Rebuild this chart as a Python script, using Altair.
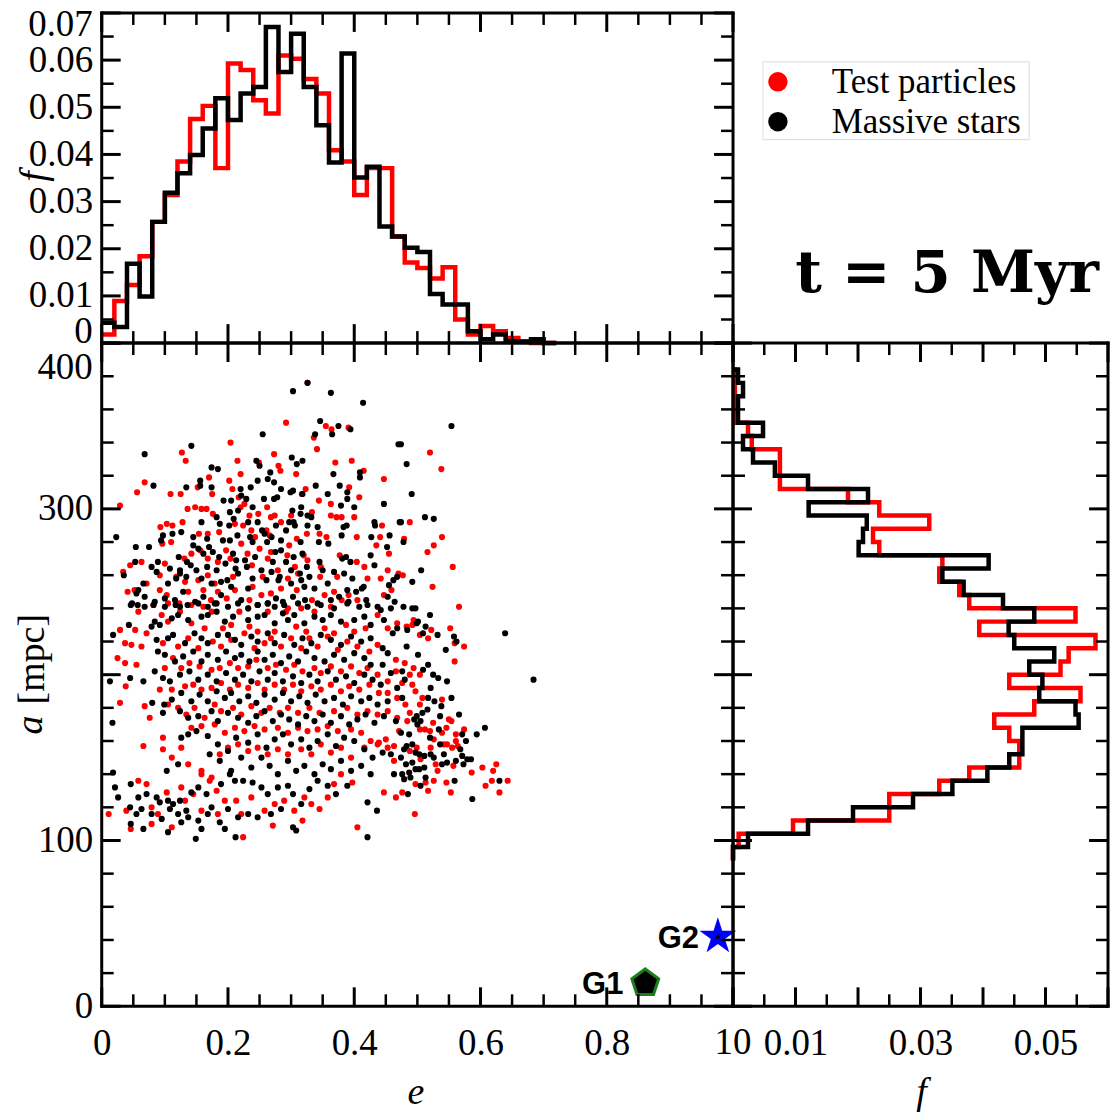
import altair as alt
import pandas as pd

# ------------------------------------------------------------------
# Eccentricity distribution f(e): bins of width 0.02
# ------------------------------------------------------------------
e_edges = [0.00, 0.02, 0.04, 0.06, 0.08, 0.10, 0.12, 0.14, 0.16, 0.18,
           0.20, 0.22, 0.24, 0.26, 0.28, 0.30, 0.32, 0.34, 0.36, 0.38,
           0.40, 0.42, 0.44, 0.46, 0.48, 0.50, 0.52, 0.54, 0.56, 0.58,
           0.60, 0.62, 0.64, 0.66, 0.68, 0.70, 0.72]
fe_test = [0.0018, 0.0089, 0.0123, 0.0184, 0.0257, 0.0314, 0.0385, 0.0475, 0.0503, 0.0371,
           0.0593, 0.0579, 0.0515, 0.0487, 0.0610, 0.0603, 0.0560, 0.0529, 0.0409, 0.0385,
           0.0314, 0.0371, 0.0371, 0.0226, 0.0171, 0.0159, 0.0137, 0.0161, 0.0050, 0.0018,
           0.0036, 0.0025, 0.0011, 0.0004, 0.0000, 0.0000]
fe_massive = [0.0043, 0.0034, 0.0168, 0.0099, 0.0257, 0.0319, 0.0360, 0.0399, 0.0455, 0.0519,
              0.0473, 0.0529, 0.0543, 0.0670, 0.0575, 0.0656, 0.0543, 0.0462, 0.0383, 0.0614,
              0.0351, 0.0374, 0.0247, 0.0226, 0.0202, 0.0193, 0.0104, 0.0082, 0.0082, 0.0025,
              0.0008, 0.0018, 0.0004, 0.0003, 0.0008, 0.0000]

# ------------------------------------------------------------------
# Semi-major axis distribution f(a): bins of width 8 mpc
# ------------------------------------------------------------------
a_edges = [88, 96, 104, 112, 120, 128, 136, 144, 152, 160,
           168, 176, 184, 192, 200, 208, 216, 224, 232, 240,
           248, 256, 264, 272, 280, 288, 296, 304, 312, 320,
           328, 336, 344, 352, 360, 368, 376, 384]
fa_test = [0.0000, 0.0009, 0.0096, 0.0250, 0.0250, 0.0330, 0.0378, 0.0458, 0.0458, 0.0442,
           0.0418, 0.0482, 0.0556, 0.0442, 0.0524, 0.0537, 0.0580, 0.0394, 0.0548, 0.0378,
           0.0362, 0.0330, 0.0335, 0.0234, 0.0224, 0.0314, 0.0234, 0.0184, 0.0075, 0.0075,
           0.0075, 0.0030, 0.0024, 0.0003, 0.0003, 0.0003, 0.0003]
fa_massive = [0.0000, 0.0024, 0.0120, 0.0192, 0.0288, 0.0351, 0.0407, 0.0442, 0.0463, 0.0463,
              0.0553, 0.0548, 0.0490, 0.0495, 0.0474, 0.0514, 0.0450, 0.0441, 0.0482, 0.0432,
              0.0369, 0.0335, 0.0409, 0.0201, 0.0208, 0.0214, 0.0121, 0.0216, 0.0120, 0.0067,
              0.0032, 0.0016, 0.0048, 0.0008, 0.0008, 0.0016, 0.0008]

# ------------------------------------------------------------------
# (e, a [mpc]) of individual orbits
# ------------------------------------------------------------------
test_particles = [
    (0.326,376),(0.292,352),(0.355,350),(0.364,348),(0.391,349),(0.336,343),(0.341,336),(0.204,340),
    (0.127,334),(0.133,329),(0.273,333),(0.215,329),(0.249,328),(0.280,326),(0.283,323),(0.220,321),
    (0.308,321),(0.370,328),(0.396,329),(0.415,323),(0.447,318),(0.068,316),(0.056,310),(0.109,309),
    (0.125,309),(0.170,319),(0.202,317),(0.152,313),(0.175,309),(0.207,312),(0.217,307),(0.226,303),
    (0.317,309),(0.323,312),(0.392,313),(0.408,307),(0.344,305),(0.363,303),(0.136,300),(0.148,301),
    (0.158,300),(0.166,300),(0.176,297),(0.220,301),(0.234,296),(0.262,301),(0.248,297),(0.268,295),
    (0.284,292),(0.274,296),(0.300,296),(0.333,298),(0.363,296),(0.372,295),(0.380,295),(0.400,295),
    (0.029,302),(0.093,289),(0.103,291),(0.112,290),(0.128,292),(0.154,285),(0.168,285),(0.186,286),
    (0.211,291),(0.224,290),(0.237,287),(0.243,283),(0.261,287),(0.266,284),(0.297,278),(0.309,282),
    (0.325,285),(0.345,285),(0.356,283),(0.404,283),(0.441,283),(0.444,290),(0.435,278),(0.096,279),
    (0.110,280),(0.142,273),(0.156,275),(0.197,275),(0.221,279),(0.250,276),(0.268,274),(0.294,272),
    (0.320,272),(0.326,269),(0.377,272),(0.404,268),(0.455,273),(0.045,266),(0.063,268),(0.100,267),
    (0.131,270),(0.168,270),(0.184,268),(0.204,270),(0.231,273),(0.238,266),(0.263,270),(0.306,265),
    (0.347,265),(0.416,265),(0.453,263),(0.034,262),(0.071,255),(0.092,260),(0.118,259),(0.132,256),
    (0.153,257),(0.168,260),(0.179,255),(0.208,259),(0.239,253),(0.255,259),(0.279,263),(0.295,258),
    (0.311,261),(0.346,259),(0.373,259),(0.421,258),(0.442,258),(0.470,261),(0.041,250),(0.052,251),
    (0.092,251),(0.103,248),(0.137,250),(0.161,251),(0.173,245),(0.184,250),(0.198,246),(0.211,251),
    (0.234,245),(0.253,248),(0.268,249),(0.284,252),(0.309,251),(0.333,245),(0.353,248),(0.368,250),
    (0.380,245),(0.391,248),(0.405,245),(0.447,248),(0.459,251),(0.082,242),(0.105,243),(0.123,243),
    (0.142,242),(0.161,241),(0.232,240),(0.247,242),(0.295,240),(0.316,240),(0.363,241),
    (0.058,238),(0.053,227),(0.071,225),(0.029,227),(0.025,210),(0.037,219),(0.047,218),(0.063,217),
    (0.038,193),(0.029,183),(0.066,157),(0.097,162),(0.068,181),(0.076,174),(0.037,207),(0.055,206),
    (0.095,236),(0.105,232),(0.124,238),(0.142,231),(0.163,228),(0.174,238),(0.192,228),(0.205,230),
    (0.218,238),(0.234,229),(0.247,226),(0.263,238),(0.274,226),(0.292,238),(0.308,229),(0.324,226),
    (0.337,238),(0.353,228),(0.368,225),(0.387,230),(0.400,226),(0.418,228),(0.437,236),(0.453,228),
    (0.468,231),(0.097,219),(0.121,217),(0.137,222),(0.153,216),(0.176,220),(0.189,217),(0.205,221),
    (0.226,225),(0.242,216),(0.258,219),(0.268,222),(0.284,217),(0.300,222),(0.316,216),(0.329,222),
    (0.342,217),(0.358,223),(0.374,215),(0.389,220),(0.405,217),(0.424,214),(0.437,218),(0.466,209),
    (0.100,204),(0.113,210),(0.126,204),(0.139,207),(0.155,205),(0.174,203),(0.187,204),(0.203,207),
    (0.216,204),(0.232,205),(0.245,209),(0.263,204),(0.276,206),(0.292,203),(0.305,206),(0.318,202),
    (0.337,204),(0.347,201),(0.363,205),(0.379,202),(0.395,205),(0.408,201),(0.421,204),(0.437,200),
    (0.453,196),(0.466,202),(0.092,191),(0.111,191),(0.132,193),(0.145,194),(0.158,191),(0.174,192),
    (0.189,195),(0.203,191),(0.216,194),(0.232,192),(0.247,195),(0.258,191),(0.274,194),(0.289,191),
    (0.303,194),(0.316,190),(0.332,193),(0.347,191),(0.363,194),(0.379,190),(0.392,193),(0.408,191),
    (0.424,194),(0.439,189),(0.453,189),(0.468,186),(0.105,182),(0.121,180),(0.134,176),(0.147,180),
    (0.163,174),(0.179,182),(0.189,178),(0.208,180),(0.221,176),(0.237,181),(0.253,177),(0.266,180),
    (0.282,177),(0.295,180),(0.311,177),(0.329,180),(0.345,177),(0.368,178),(0.389,180),(0.405,176),
    (0.421,178),(0.437,176),(0.453,178),(0.468,174),(0.142,168),(0.158,169),(0.179,170),(0.195,165),
    (0.211,168),(0.226,166),(0.242,169),(0.258,167),(0.279,168),(0.295,165),(0.311,168),(0.326,166),
    (0.342,167),(0.358,169),(0.374,166),(0.395,167),(0.411,165),(0.426,160),(0.439,159),(0.450,161),
    (0.463,157),(0.471,166),(0.097,155),(0.111,150),(0.126,156),(0.137,146),(0.158,142),(0.174,138),
    (0.187,152),(0.200,156),(0.216,158),(0.232,154),(0.247,156),(0.263,152),(0.279,155),(0.295,152),
    (0.316,155),(0.332,152),(0.347,158),(0.363,153),(0.379,156),(0.395,150),(0.416,156),(0.437,158),
    (0.453,156),(0.463,148),(0.039,118),(0.011,116),(0.046,107),(0.058,136),(0.071,134),(0.079,120),
    (0.089,116),(0.103,129),(0.111,108),(0.126,132),(0.132,124),(0.145,128),(0.158,140),(0.171,136),
    (0.182,130),(0.195,124),(0.213,124),(0.221,116),(0.237,126),(0.258,118),(0.274,122),(0.289,124),
    (0.305,118),(0.321,126),(0.332,122),(0.345,119),(0.358,126),(0.368,134),(0.379,140),(0.397,135),
    (0.405,108),(0.447,129),(0.466,126),(0.224,102),(0.271,109),(0.318,112),(0.079,110),(0.158,118),
    (0.184,116),
    (0.520,334),(0.538,324),(0.488,292),(0.479,282),(0.539,283),(0.526,278),(0.516,274),(0.556,265),
    (0.477,260),(0.524,253),(0.566,241),
    (0.494,233),(0.492,230),(0.483,229),(0.522,227),(0.504,224),(0.517,222),(0.552,228),(0.559,219),
    (0.574,217),(0.559,208),(0.480,207),(0.494,204),(0.504,200),(0.488,200),(0.492,194),(0.497,190),
    (0.476,195),(0.539,185),(0.508,186),(0.504,182),(0.481,182),(0.488,177),(0.484,172),(0.550,173),
    (0.554,172),(0.525,171),(0.546,168),(0.539,165),(0.574,167),(0.504,167),(0.512,167),(0.520,166),
    (0.526,161),(0.561,160),(0.561,164),(0.542,158),(0.555,156),(0.564,157),(0.547,158),(0.499,156),
    (0.488,154),(0.521,156),(0.505,149),(0.529,146),(0.532,142),(0.557,145),(0.586,141),(0.603,144),
    (0.625,146),(0.620,142),(0.643,136),(0.618,136),(0.608,133),(0.630,129),(0.546,135),(0.526,136),
    (0.513,135),(0.497,134),(0.553,129),(0.517,130),(0.476,129),(0.496,116),
]

massive_stars = [
    (0.303,371),(0.326,376),(0.363,370),(0.414,364),(0.346,353),(0.375,350),(0.394,348),(0.338,345),
    (0.365,345),(0.255,345),(0.470,339),(0.142,338),(0.068,333),(0.301,331),(0.309,327),(0.318,329),
    (0.245,329),(0.250,326),(0.174,325),(0.184,324),(0.267,322),(0.367,321),(0.409,322),(0.409,319),
    (0.156,317),(0.247,317),(0.263,318),(0.273,316),(0.082,314),(0.134,313),(0.174,313),(0.156,314),
    (0.236,313),(0.284,312),(0.339,314),(0.377,314),(0.299,310),(0.220,312),(0.221,308),(0.229,306),
    (0.205,305),(0.193,305),(0.303,311),(0.318,309),(0.358,309),(0.389,306),(0.389,310),(0.447,303),
    (0.472,292),(0.257,306),(0.273,306),(0.278,307),(0.239,301),(0.216,299),(0.203,298),(0.302,299),
    (0.316,301),(0.315,297),(0.326,296),(0.332,295),(0.304,292),(0.306,290),(0.383,289),(0.388,290),
    (0.432,292),(0.433,290),(0.400,301),(0.379,302),(0.182,295),(0.187,291),(0.158,292),(0.202,290),
    (0.209,294),(0.232,292),(0.247,292),(0.254,287),(0.258,285),(0.276,290),(0.292,287),(0.297,292),
    (0.342,289),(0.326,290),(0.023,283),(0.097,284),(0.112,285),(0.126,286),(0.145,283),(0.167,282),
    (0.145,278),(0.153,276),(0.170,277),(0.176,274),(0.192,281),(0.203,281),(0.215,284),(0.235,283),
    (0.239,280),(0.262,280),(0.269,283),(0.284,281),(0.275,274),(0.284,275),(0.315,280),(0.318,273),
    (0.344,280),(0.359,279),(0.380,284),(0.427,283),(0.452,277),(0.456,284),(0.054,277),(0.075,277),
    (0.094,281),(0.122,271),(0.161,273),(0.186,271),(0.208,273),(0.213,269),(0.227,269),(0.243,271),
    (0.271,268),(0.292,268),(0.304,271),(0.325,265),(0.345,268),(0.381,270),(0.387,271),(0.394,268),
    (0.426,272),(0.053,268),(0.079,265),(0.089,268),(0.108,264),(0.124,263),(0.135,268),(0.141,266),
    (0.150,263),(0.167,265),(0.182,263),(0.196,267),(0.212,264),(0.230,265),(0.253,263),(0.269,262),
    (0.282,259),(0.300,263),(0.314,261),(0.329,259),(0.350,263),(0.368,262),(0.384,261),(0.397,258),
    (0.415,253),(0.432,266),(0.455,254),(0.462,257),(0.468,259),(0.035,260),(0.058,251),(0.055,249),
    (0.066,255),(0.087,262),(0.105,255),(0.118,258),(0.124,261),(0.134,259),(0.158,258),(0.174,255),
    (0.189,256),(0.199,257),(0.205,253),(0.216,261),(0.232,252),(0.239,258),(0.261,257),(0.280,257),
    (0.300,255),(0.316,257),(0.321,253),(0.337,252),(0.358,255),(0.376,247),(0.389,251),(0.403,250),
    (0.412,252),(0.048,243),(0.068,247),(0.084,244),(0.100,246),(0.116,245),(0.129,250),(0.148,244),
    (0.161,247),(0.179,243),(0.189,248),(0.221,245),(0.247,242),(0.263,243),(0.276,246),(0.287,244),
    (0.303,247),(0.322,245),(0.342,243),(0.363,245),(0.391,244),(0.419,245),(0.437,241),(0.453,247),
    (0.464,244),
    (0.046,242),(0.057,242),(0.068,241),(0.082,242),(0.100,241),(0.117,242),(0.124,241),(0.136,242),
    (0.153,243),(0.168,241),(0.182,243),(0.200,241),(0.216,243),(0.232,240),(0.247,242),(0.263,243),
    (0.274,241),(0.289,242),(0.311,243),(0.326,241),(0.347,242),(0.368,240),(0.389,243),(0.408,241),
    (0.421,242),(0.442,239),(0.458,240),(0.084,232),(0.079,229),(0.092,230),(0.111,234),(0.121,236),
    (0.137,233),(0.158,235),(0.168,236),(0.182,238),(0.195,232),(0.208,235),(0.232,233),(0.247,235),
    (0.258,236),(0.274,231),(0.287,237),(0.295,233),(0.305,236),(0.321,231),(0.337,235),(0.350,233),
    (0.363,236),(0.379,232),(0.400,233),(0.416,235),(0.426,230),(0.447,233),(0.461,225),(0.468,228),
    (0.018,224),(0.043,230),(0.087,221),(0.105,222),(0.113,224),(0.132,219),(0.147,225),(0.158,222),
    (0.168,219),(0.184,224),(0.200,224),(0.211,221),(0.221,218),(0.237,223),(0.247,220),(0.263,225),
    (0.274,219),(0.289,224),(0.305,218),(0.318,222),(0.332,219),(0.347,224),(0.363,221),(0.379,218),
    (0.395,223),(0.411,220),(0.426,222),(0.445,216),(0.453,213),(0.089,214),(0.100,212),(0.116,208),
    (0.129,211),(0.145,214),(0.158,208),(0.168,212),(0.184,209),(0.197,214),(0.211,210),(0.221,212),
    (0.234,208),(0.247,214),(0.258,209),(0.271,212),(0.284,207),(0.297,211),(0.311,208),(0.324,214),
    (0.337,210),(0.353,208),(0.368,212),(0.384,209),(0.400,213),(0.416,210),(0.426,206),(0.445,206),
    (0.084,202),(0.097,198),(0.108,196),(0.124,200),(0.139,202),(0.153,197),(0.168,200),(0.182,196),
    (0.197,201),(0.211,197),(0.224,200),(0.237,196),(0.250,202),(0.263,197),(0.274,201),(0.287,196),
    (0.303,199),(0.316,195),(0.329,200),(0.342,196),(0.358,202),(0.371,197),(0.387,199),(0.400,195),
    (0.416,200),(0.429,197),(0.442,194),(0.458,201),(0.468,192),(0.013,196),(0.045,198),(0.066,196),
    (0.080,183),(0.099,182),(0.111,185),(0.126,189),(0.142,184),(0.155,188),(0.168,184),(0.182,190),
    (0.195,186),(0.205,189),(0.218,184),(0.232,187),(0.245,183),(0.258,188),(0.274,185),(0.287,189),
    (0.300,184),(0.313,187),(0.326,183),(0.339,188),(0.353,184),(0.368,186),(0.382,182),(0.395,187),
    (0.411,184),(0.424,186),(0.437,182),(0.453,184),(0.017,171),(0.097,177),(0.124,178),(0.137,174),
    (0.153,175),(0.174,178),(0.184,172),(0.200,177),(0.216,174),(0.232,171),(0.245,175),(0.258,178),
    (0.271,172),(0.284,176),(0.297,173),(0.311,170),(0.324,175),(0.337,172),(0.350,176),(0.363,171),
    (0.379,175),(0.392,170),(0.405,173),(0.418,176),(0.432,171),(0.447,175),(0.466,172),(0.126,162),
    (0.137,164),(0.150,166),(0.168,163),(0.184,158),(0.200,154),(0.213,162),(0.232,159),(0.247,164),
    (0.261,156),(0.274,161),(0.287,164),(0.300,158),(0.316,161),(0.329,156),(0.342,160),(0.358,164),
    (0.371,157),(0.384,162),(0.400,160),(0.416,155),(0.429,150),(0.445,153),(0.458,152),(0.103,142),
    (0.121,146),(0.171,152),(0.187,148),(0.205,142),(0.221,150),(0.237,144),(0.253,150),(0.266,145),
    (0.279,140),(0.295,148),(0.308,142),(0.321,145),(0.337,140),(0.350,146),(0.363,143),(0.379,148),
    (0.395,142),(0.411,145),(0.426,140),(0.463,140),(0.018,141),(0.021,132),(0.026,126),(0.046,134),
    (0.058,126),(0.071,128),(0.087,126),(0.092,123),(0.105,124),(0.113,122),(0.124,124),(0.134,118),
    (0.142,129),(0.153,132),(0.166,128),(0.174,120),(0.189,134),(0.203,140),(0.211,136),(0.224,136),
    (0.239,135),(0.253,132),(0.263,128),(0.279,132),(0.295,133),(0.303,128),(0.316,122),(0.329,131),
    (0.342,136),(0.358,133),(0.371,128),(0.389,133),(0.421,123),(0.436,118),(0.045,120),(0.055,116),
    (0.063,119),(0.079,116),(0.095,113),(0.108,119),(0.121,116),(0.137,114),(0.153,112),(0.168,116),
    (0.187,111),(0.200,119),(0.216,114),(0.232,116),(0.247,114),(0.268,116),(0.284,119),(0.303,108),
    (0.308,106),(0.046,110),(0.066,107),(0.105,105),(0.126,111),(0.158,107),(0.195,107),(0.149,101),
    (0.212,102),(0.421,102),
    (0.554,350),(0.474,339),(0.483,327),(0.491,309),(0.474,292),(0.512,295),(0.526,294),(0.478,280),
    (0.506,263),(0.492,256),(0.478,241),(0.492,240),(0.497,240),
    (0.520,236),(0.501,232),(0.499,231),(0.513,229),(0.484,227),(0.509,225),(0.532,224),(0.558,223),
    (0.562,220),(0.545,215),(0.483,217),(0.501,212),(0.639,225),(0.517,206),(0.509,203),(0.476,202),
    (0.525,200),(0.533,198),(0.547,196),(0.480,197),(0.684,197),(0.521,192),(0.554,186),(0.517,186),
    (0.527,184),(0.538,181),(0.476,186),(0.516,179),(0.508,177),(0.499,175),(0.495,173),(0.505,172),
    (0.500,170),(0.536,175),(0.566,176),(0.607,168),(0.594,164),(0.534,167),(0.571,164),(0.577,160),
    (0.474,165),(0.487,164),(0.520,162),(0.536,158),(0.483,157),(0.492,158),(0.479,155),(0.497,153),
    (0.503,152),(0.511,151),(0.521,152),(0.526,150),(0.542,152),(0.539,146),(0.547,147),(0.568,155),
    (0.571,151),(0.579,149),(0.585,149),(0.573,146),(0.561,148),(0.474,150),(0.482,146),(0.492,147),
    (0.476,140),(0.487,141),(0.497,143),(0.511,144),(0.503,143),(0.489,138),(0.479,137),(0.513,138),
    (0.559,136),(0.630,136),(0.505,133),(0.485,128),(0.587,125),
]

# the two galaxies
galaxy_names = ["G1", "G2"]
galaxy_e = [0.861, 0.976]
galaxy_a = [14, 42]

legend_labels = ["Test particles", "Massive stars"]
legend_colors = ["#ff0000", "#000000"]
time_label = "t = 5 Myr"

# tick positions
e_major = [0, 0.2, 0.4, 0.6, 0.8, 1.0]
e_minor = [0.05, 0.1, 0.15, 0.25, 0.3, 0.35, 0.45, 0.5, 0.55, 0.65, 0.7, 0.75, 0.85, 0.9, 0.95]
a_major = [0, 100, 200, 300, 400]
a_minor = [20, 40, 60, 80, 120, 140, 160, 180, 220, 240, 260, 280, 320, 340, 360, 380]
fe_major = [0, 0.01, 0.02, 0.03, 0.04, 0.05, 0.06, 0.07]
fe_minor = [0.005, 0.015, 0.025, 0.035, 0.045, 0.055, 0.065]
fa_major = [0, 0.01, 0.02, 0.03, 0.04, 0.05, 0.06]
fa_minor = [0.005, 0.015, 0.025, 0.035, 0.045, 0.055]

# tick labels
e_labelled = [0, 0.2, 0.4, 0.6, 0.8]
a_labelled = [0, 100, 300]
fe_labelled = [0.01, 0.02, 0.03, 0.04, 0.05, 0.06]
fa_labelled = [0.01, 0.03, 0.05]

# ------------------------------------------------------------------
# tables
# ------------------------------------------------------------------
def step_table(edges, values):
    return pd.DataFrame({"edge": edges, "f": list(values) + [0.0]})

top_test = step_table(e_edges, fe_test)
top_massive = step_table(e_edges, fe_massive)
side_test = step_table(a_edges, fa_test)
side_massive = step_table(a_edges, fa_massive)
tp_df = pd.DataFrame(test_particles, columns=["e", "a"])
ms_df = pd.DataFrame(massive_stars, columns=["e", "a"])
gal_df = pd.DataFrame({"name": galaxy_names, "e": galaxy_e, "a": galaxy_a})
leg_df = pd.DataFrame({"label": legend_labels, "color": legend_colors, "row": [0, 1]})

# ------------------------------------------------------------------
# geometry of the three framed panels inside one plotting area
# ------------------------------------------------------------------
PW, PH = 1009, 996           # whole plotting area
XM, YT = 633, 331            # main panel width, top panel height
MAJ, MIN = 19, 12
XPAD = 19                    # gap between bottom frame and tick labels
SERIF = "Liberation Serif"


def sc(domain, rng):
    return alt.Scale(domain=domain, range=rng, nice=False, zero=False)


XE = sc([0, 1], [0, XM])            # eccentricity
YA = sc([0, 400], [PH, YT])         # semi-major axis
YFE = sc([0, 0.07], [YT, 0])        # f(e)
XFA = sc([0, 0.06], [XM, PW])       # f(a)


def label_axis(orient, values, pad, expr):
    return alt.Axis(orient=orient, values=values, ticks=False, domain=False, grid=False, title=None,
                    labelFont=SERIF, labelFontSize=37, labelColor="black", labelPadding=pad,
                    labelOverlap=False, labelFlush=False, labelExpr=expr)


def x_ticks(scale, values, y_edge, sign, length, width, axis=None):
    return alt.Chart(pd.DataFrame({"v": values})).mark_rule(color="black", strokeWidth=width).encode(
        x=alt.X("v:Q", scale=scale, axis=axis), y=alt.value(y_edge), y2=alt.value(y_edge + sign * length))


def y_ticks(scale, values, x_edge, sign, length, width, axis=None):
    return alt.Chart(pd.DataFrame({"v": values})).mark_rule(color="black", strokeWidth=width).encode(
        y=alt.Y("v:Q", scale=scale, axis=axis), x=alt.value(x_edge), x2=alt.value(x_edge + sign * length))


def frame(xs, ys, xd, yd):
    x0, x1 = xd
    y0, y1 = yd
    df = pd.DataFrame({"xa": [x0, x0, x0, x1], "xb": [x1, x1, x0, x1],
                       "ya": [y0, y1, y0, y0], "yb": [y0, y1, y1, y1]})
    return alt.Chart(df).mark_rule(color="black", strokeWidth=3, strokeCap="square").encode(
        x=alt.X("xa:Q", scale=xs, axis=None), x2="xb:Q",
        y=alt.Y("ya:Q", scale=ys, axis=None), y2="yb:Q")


def panel_ticks(xs, ys, xmaj, xmin, ymaj, ymin, bottom, top, left, right, xaxis=None, yaxis=None):
    return [
        x_ticks(xs, xmaj, bottom, -1, MAJ, 3, xaxis), x_ticks(xs, xmin, bottom, -1, MIN, 2.5),
        x_ticks(xs, xmaj, top, 1, MAJ, 3), x_ticks(xs, xmin, top, 1, MIN, 2.5),
        y_ticks(ys, ymaj, left, 1, MAJ, 3, yaxis), y_ticks(ys, ymin, left, 1, MIN, 2.5),
        y_ticks(ys, ymaj, right, -1, MAJ, 3), y_ticks(ys, ymin, right, -1, MIN, 2.5),
    ]


def text_at(txt, x, y, size=38, italic=True, angle=0, align="center", baseline="middle"):
    kw = dict(font=SERIF, fontSize=size, color="black", align=align, baseline=baseline)
    if italic:
        kw["fontStyle"] = "italic"
    if angle:
        kw["angle"] = angle
    return alt.Chart(pd.DataFrame({"t": [txt]})).mark_text(**kw).encode(
        x=alt.value(x), y=alt.value(y), text="t:N")


def edge_label(txt, value, scale, channel, fixed, align, baseline, dy=0):
    kw = dict(font=SERIF, fontSize=37, color="black", align=align, baseline=baseline)
    if dy:
        kw["dy"] = dy
    df = pd.DataFrame({"v": [value], "t": [txt]})
    if channel == "x":
        enc = dict(x=alt.X("v:Q", scale=scale, axis=None), y=alt.value(fixed))
    else:
        enc = dict(y=alt.Y("v:Q", scale=scale, axis=None), x=alt.value(fixed))
    return alt.Chart(df).mark_text(**kw).encode(text="t:N", **enc)


# ------------------------------------------------------------------
# data layers
# ------------------------------------------------------------------
XEe = alt.X("e:Q", scale=XE, axis=None)
YAa = alt.Y("a:Q", scale=YA, axis=None)
PENTAGON = "M0,-1L0.951,-0.309L0.588,0.809L-0.588,0.809L-0.951,-0.309Z"
STAR = ("M0,-1L0.2245,-0.309L0.951,-0.309L0.363,0.118L0.588,0.809L0,0.382"
        "L-0.588,0.809L-0.363,0.118L-0.951,-0.309L-0.2245,-0.309Z")
g1 = gal_df[gal_df.name == "G1"]
g2 = gal_df[gal_df.name == "G2"]

scatter = [
    alt.Chart(tp_df).mark_circle(size=38, opacity=1, color="#ff0000").encode(x=XEe, y=YAa),
    alt.Chart(ms_df).mark_circle(size=38, opacity=1, color="#000000").encode(x=XEe, y=YAa),
    alt.Chart(g1).mark_point(shape=PENTAGON, size=800, filled=True, fill="black", stroke="#1a7f1a",
                             strokeWidth=3, opacity=1).encode(x=XEe, y=YAa),
    alt.Chart(g2).mark_point(shape=STAR, size=1500, filled=True, fill="#0000ff", opacity=1).encode(x=XEe, y=YAa),
    alt.Chart(g2).mark_point(shape=STAR, size=60, filled=True, fill="black", opacity=1).encode(x=XEe, y=YAa),
    alt.Chart(g1).mark_text(font="Liberation Sans", fontWeight="bold", fontSize=31, align="right",
                            baseline="middle", dx=-22, dy=2, color="black").encode(x=XEe, y=YAa, text="name:N"),
    alt.Chart(g2).mark_text(font="Liberation Sans", fontWeight="bold", fontSize=31, align="right",
                            baseline="middle", dx=-19, dy=2, color="black").encode(x=XEe, y=YAa, text="name:N"),
]

hists = []
for df, col in [(top_test, "#ff0000"), (top_massive, "#000000")]:
    hists.append(alt.Chart(df).mark_line(color=col, strokeWidth=4.5, interpolate="step-after").encode(
        x=alt.X("edge:Q", scale=XE, axis=None), y=alt.Y("f:Q", scale=YFE, axis=None)))
for df, col in [(side_test, "#ff0000"), (side_massive, "#000000")]:
    hists.append(alt.Chart(df).mark_line(color=col, strokeWidth=4.5, interpolate="step-before").encode(
        x=alt.X("f:Q", scale=XFA, axis=None), y=alt.Y("edge:Q", scale=YA, axis=None),
        order=alt.Order("edge:Q")))

# ------------------------------------------------------------------
# frames, ticks and labels
# ------------------------------------------------------------------
e_axis = label_axis("bottom", e_labelled, XPAD, "datum.value == 0 ? '0' : format(datum.value, '.1f')")
fa_axis = label_axis("bottom", fa_labelled, XPAD, "format(datum.value, '.2f')")
a_axis = label_axis("left", a_labelled, 9, "format(datum.value, 'd')")
fe_axis = label_axis("left", fe_labelled, 9, "format(datum.value, '.2f')")

guides = [
    frame(XE, YFE, [0, 1], [0, 0.07]),
    frame(XE, YA, [0, 1], [0, 400]),
    frame(XFA, YA, [0, 0.06], [0, 400]),
    *panel_ticks(XE, YFE, e_major, e_minor, fe_major, fe_minor, YT, 0, 0, XM, yaxis=fe_axis),
    *panel_ticks(XE, YA, e_major, e_minor, a_major, a_minor, PH, YT, 0, XM, xaxis=e_axis, yaxis=a_axis),
    *panel_ticks(XFA, YA, fa_major, fa_minor, a_major, a_minor, PH, YT, XM, PW, xaxis=fa_axis),
    edge_label("1", 1, XE, "x", PH + XPAD, "right", "top"),
    edge_label("0", 0, XFA, "x", PH + XPAD, "left", "top"),
    edge_label("400", 400, YA, "y", -9, "right", "middle", dy=25),
    edge_label("0.07", 0.07, YFE, "y", -9, "right", "middle", dy=12),
    edge_label("0", 0, YFE, "y", -9, "right", "alphabetic"),
]

titles = [
    text_at("f", -67, 164, angle=270),
    text_at("[mpc]", -69, YT + 317, italic=False, angle=270),
    text_at("a", -71, YT + 383, angle=270),
    text_at("e", 315, YT + 763, baseline="alphabetic"),
    text_at("f", XM + 189, YT + 763, baseline="alphabetic"),
]

# ------------------------------------------------------------------
# legend box and time stamp (top-right corner)
# ------------------------------------------------------------------
ROW = alt.Scale(domain=[0, 1], range=[69, 109])
corner = [
    alt.Chart(pd.DataFrame({"box": [1]})).mark_rect(fill="white", stroke="#dcdcdc", strokeWidth=1).encode(
        x=alt.value(663), x2=alt.value(930), y=alt.value(49), y2=alt.value(127)),
    alt.Chart(leg_df).mark_circle(size=380, opacity=1).encode(
        x=alt.value(678), y=alt.Y("row:Q", scale=ROW, axis=None),
        color=alt.Color("color:N", scale=None, legend=None)),
    alt.Chart(leg_df).mark_text(font=SERIF, fontSize=35, align="left", baseline="middle", color="black").encode(
        x=alt.value(732), y=alt.Y("row:Q", scale=ROW, axis=None), text="label:N"),
    alt.Chart(pd.DataFrame({"t": [time_label]})).mark_text(
        font="DejaVu Serif", fontWeight="bold", fontSize=58, align="right", baseline="alphabetic",
        color="black").encode(x=alt.value(1000), y=alt.value(280), text="t:N"),
]

chart = alt.layer(*hists, *scatter, *guides, *titles, *corner).resolve_scale(
    x="independent", y="independent"
).properties(
    width=PW, height=PH,
    padding={"left": 12, "top": 4.5, "right": 0, "bottom": 0},
    background="white",
).configure_view(stroke="transparent")

chart.save("out.html", embed_options={"renderer": "svg", "actions": False})
